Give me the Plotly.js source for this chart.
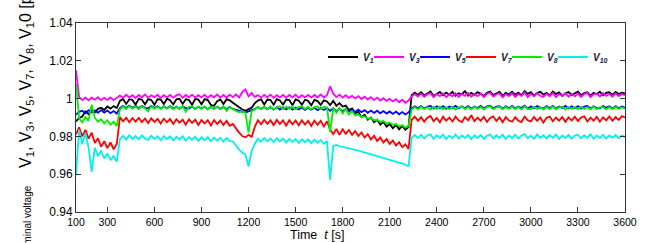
<!DOCTYPE html>
<html>
<head>
<meta charset="utf-8">
<script src="https://cdn.plot.ly/plotly-3.0.1.min.js"></script>
<style>html,body{margin:0;padding:0;background:#fff;}#chart{width:649px;height:243px;}</style>
</head>
<body>
<div id="chart"></div>
<script>
const time = [
100,120,140,160,180,200,220,240,260,280,
300,320,340,360,380,400,420,440,460,480,
500,520,540,560,580,600,620,640,660,680,
700,720,740,760,780,800,820,840,860,880,
900,920,940,960,980,1000,1020,1040,1060,1080,
1100,1120,1140,1160,1180,1200,1220,1240,1260,1280,
1300,1320,1340,1360,1380,1400,1420,1440,1460,1480,
1500,1520,1540,1560,1580,1600,1620,1640,1660,1680,
1700,1720,1740,1760,1780,1800,1820,1840,1860,1880,
1900,1920,1940,1960,1980,2000,2020,2040,2060,2080,
2100,2120,2140,2160,2180,2200,2220,2240,2260,2280,
2300,2320,2340,2360,2380,2400,2420,2440,2460,2480,
2500,2520,2540,2560,2580,2600,2620,2640,2660,2680,
2700,2720,2740,2760,2780,2800,2820,2840,2860,2880,
2900,2920,2940,2960,2980,3000,3020,3040,3060,3080,
3100,3120,3140,3160,3180,3200,3220,3240,3260,3280,
3300,3320,3340,3360,3380,3400,3420,3440,3460,3480,
3500,3520,3540,3560,3580,3600];

const V1 = [
0.9880,0.9898,0.9905,0.9932,0.9918,0.9940,0.9926,0.9946,0.9952,0.9940,
0.9958,0.9947,0.9960,0.9950,0.9988,0.9998,0.9972,0.9997,0.9993,0.9968,
0.9999,0.9994,0.9970,0.9998,0.9992,0.9967,0.9997,0.9995,0.9971,0.9999,
0.9991,0.9969,0.9996,0.9999,0.9972,0.9997,0.9993,0.9968,0.9998,0.9995,
0.9970,0.9997,0.9992,0.9966,0.9962,0.9986,0.9996,0.9971,0.9997,0.9991,
0.9978,0.9966,0.9955,0.9942,0.9936,0.9944,0.9952,0.9976,0.9990,0.9996,
0.9969,0.9995,0.9992,0.9967,0.9997,0.9990,0.9968,0.9995,0.9992,0.9965,
0.9996,0.9989,0.9968,0.9994,0.9988,0.9964,0.9993,0.9987,0.9966,0.9991,
0.9985,0.9966,0.9988,0.9962,0.9976,0.9958,0.9963,0.9940,0.9948,0.9922,
0.9930,0.9902,0.9914,0.9888,0.9900,0.9875,0.9888,0.9862,0.9877,0.9852,
0.9866,0.9843,0.9861,0.9838,0.9856,0.9835,0.9850,1.0018,1.0032,1.0019,
1.0034,1.0017,1.0029,1.0038,1.0014,1.0027,1.0035,1.0018,1.0032,1.0021,
1.0036,1.0015,1.0028,1.0023,1.0039,1.0016,1.0030,1.0020,1.0034,1.0025,
1.0014,1.0031,1.0037,1.0019,1.0028,1.0035,1.0016,1.0030,1.0022,1.0036,
1.0020,1.0032,1.0017,1.0040,1.0025,1.0034,1.0015,1.0029,1.0036,1.0021,
1.0031,1.0017,1.0037,1.0024,1.0033,1.0014,1.0028,1.0035,1.0019,1.0030,
1.0037,1.0018,1.0029,1.0033,1.0016,1.0031,1.0023,1.0036,1.0017,1.0030,
1.0034,1.0020,1.0035,1.0024,1.0031,1.0027];

const V3 = [
1.0150,1.0008,0.9992,1.0006,0.9991,1.0005,0.9994,1.0007,0.9992,1.0004,
0.9993,1.0006,0.9992,1.0003,1.0016,1.0004,1.0020,1.0006,1.0018,1.0003,
1.0019,1.0007,1.0022,1.0004,1.0017,1.0008,1.0021,1.0003,1.0018,1.0006,
1.0020,1.0005,1.0017,1.0023,1.0004,1.0019,1.0007,1.0021,1.0005,1.0018,
1.0006,1.0020,1.0004,1.0018,1.0007,1.0022,1.0005,1.0019,1.0006,1.0021,
1.0008,1.0022,1.0006,1.0034,1.0048,1.0012,1.0030,1.0008,1.0019,1.0005,
1.0020,1.0007,1.0021,1.0004,1.0018,1.0006,1.0020,1.0005,1.0019,1.0007,
1.0021,1.0004,1.0018,1.0006,1.0020,1.0005,1.0019,1.0007,1.0022,1.0006,
1.0018,1.0065,1.0026,1.0008,1.0021,1.0005,1.0018,1.0004,1.0015,1.0001,
1.0013,0.9998,1.0010,0.9995,1.0008,0.9992,1.0005,0.9990,1.0002,0.9988,
0.9999,0.9985,0.9997,0.9981,0.9994,0.9978,0.9990,1.0012,1.0024,1.0011,
1.0026,1.0010,1.0023,1.0029,1.0008,1.0024,1.0013,1.0028,1.0007,1.0023,
1.0012,1.0029,1.0009,1.0025,1.0014,1.0030,1.0010,1.0024,1.0013,1.0027,
1.0008,1.0025,1.0031,1.0011,1.0023,1.0028,1.0007,1.0024,1.0013,1.0029,
1.0009,1.0024,1.0014,1.0032,1.0008,1.0025,1.0012,1.0028,1.0015,1.0009,
1.0026,1.0012,1.0030,1.0008,1.0024,1.0014,1.0029,1.0010,1.0025,1.0012,
1.0028,1.0009,1.0024,1.0030,1.0008,1.0023,1.0027,1.0011,1.0029,1.0014,
1.0025,1.0010,1.0028,1.0013,1.0024,1.0018];

const V5 = [
0.9915,0.9930,0.9936,0.9922,0.9939,0.9927,0.9938,0.9925,0.9939,0.9926,
0.9937,0.9923,0.9934,0.9921,0.9950,0.9962,0.9950,0.9963,0.9951,0.9961,
0.9949,0.9962,0.9951,0.9948,0.9961,0.9950,0.9960,0.9947,0.9959,0.9949,
0.9960,0.9948,0.9958,0.9946,0.9959,0.9949,0.9947,0.9958,0.9945,0.9957,
0.9947,0.9958,0.9944,0.9956,0.9946,0.9957,0.9945,0.9955,0.9944,0.9956,
0.9945,0.9941,0.9936,0.9930,0.9926,0.9932,0.9938,0.9945,0.9955,0.9945,
0.9956,0.9944,0.9954,0.9943,0.9955,0.9942,0.9953,0.9943,0.9954,0.9941,
0.9952,0.9942,0.9953,0.9940,0.9951,0.9941,0.9952,0.9939,0.9950,0.9940,
0.9950,0.9935,0.9949,0.9933,0.9947,0.9932,0.9945,0.9931,0.9943,0.9929,
0.9941,0.9928,0.9939,0.9925,0.9937,0.9924,0.9936,0.9922,0.9934,0.9921,
0.9932,0.9919,0.9931,0.9917,0.9929,0.9916,0.9927,0.9948,0.9959,0.9949,
0.9960,0.9948,0.9958,0.9961,0.9947,0.9959,0.9949,0.9960,0.9946,0.9958,
0.9950,0.9961,0.9948,0.9959,0.9949,0.9960,0.9947,0.9958,0.9950,0.9961,
0.9948,0.9959,0.9962,0.9949,0.9958,0.9960,0.9947,0.9959,0.9949,0.9961,
0.9948,0.9958,0.9950,0.9962,0.9947,0.9959,0.9949,0.9960,0.9951,0.9948,
0.9960,0.9949,0.9961,0.9947,0.9958,0.9950,0.9961,0.9948,0.9959,0.9949,
0.9960,0.9947,0.9958,0.9961,0.9948,0.9959,0.9950,0.9949,0.9961,0.9951,
0.9959,0.9948,0.9960,0.9949,0.9958,0.9952];

const V7 = [
0.9810,0.9848,0.9800,0.9835,0.9788,0.9820,0.9765,0.9790,0.9745,0.9775,
0.9738,0.9768,0.9732,0.9760,0.9902,0.9880,0.9899,0.9875,0.9897,0.9878,
0.9898,0.9876,0.9895,0.9870,0.9896,0.9877,0.9893,0.9868,0.9894,0.9875,
0.9892,0.9866,0.9891,0.9873,0.9889,0.9862,0.9890,0.9871,0.9888,0.9860,
0.9887,0.9869,0.9886,0.9858,0.9886,0.9866,0.9884,0.9860,0.9882,0.9856,
0.9866,0.9840,0.9820,0.9802,0.9795,0.9808,0.9798,0.9850,0.9886,0.9864,
0.9888,0.9867,0.9886,0.9860,0.9887,0.9865,0.9885,0.9857,0.9886,0.9864,
0.9884,0.9859,0.9885,0.9863,0.9883,0.9855,0.9884,0.9862,0.9882,0.9853,
0.9880,0.9836,0.9812,0.9840,0.9808,0.9838,0.9814,0.9834,0.9808,0.9828,
0.9802,0.9821,0.9794,0.9812,0.9784,0.9803,0.9776,0.9794,0.9768,0.9786,
0.9760,0.9778,0.9752,0.9769,0.9743,0.9758,0.9733,0.9888,0.9905,0.9882,
0.9902,0.9878,0.9899,0.9908,0.9880,0.9898,0.9874,0.9904,0.9883,0.9900,
0.9879,0.9905,0.9884,0.9876,0.9902,0.9885,0.9912,0.9880,0.9899,0.9882,
0.9904,0.9877,0.9898,0.9906,0.9881,0.9901,0.9875,0.9903,0.9884,0.9878,
0.9902,0.9883,0.9876,0.9905,0.9885,0.9879,0.9903,0.9882,0.9900,0.9873,
0.9899,0.9905,0.9880,0.9900,0.9883,0.9903,0.9877,0.9901,0.9884,0.9904,
0.9881,0.9900,0.9906,0.9879,0.9899,0.9883,0.9904,0.9878,0.9901,0.9885,
0.9905,0.9882,0.9902,0.9887,0.9907,0.9900];

const V8 = [
1.0080,0.9895,0.9874,0.9903,0.9882,0.9968,0.9899,0.9878,0.9891,0.9869,
0.9885,0.9862,0.9877,0.9856,0.9942,0.9959,0.9945,0.9960,0.9947,0.9958,
0.9944,0.9960,0.9948,0.9932,0.9959,0.9946,0.9958,0.9945,0.9960,0.9947,
0.9959,0.9943,0.9957,0.9946,0.9960,0.9930,0.9956,0.9959,0.9945,0.9958,
0.9946,0.9959,0.9942,0.9957,0.9945,0.9958,0.9947,0.9959,0.9935,0.9956,
0.9944,0.9936,0.9928,0.9932,0.9924,0.9820,0.9934,0.9942,0.9956,0.9944,
0.9957,0.9945,0.9958,0.9941,0.9955,0.9959,0.9944,0.9957,0.9946,0.9958,
0.9943,0.9956,0.9959,0.9945,0.9957,0.9942,0.9955,0.9958,0.9944,0.9956,
0.9954,0.9822,0.9949,0.9926,0.9952,0.9921,0.9946,0.9916,0.9934,0.9911,
0.9916,0.9902,0.9906,0.9893,0.9897,0.9885,0.9889,0.9876,0.9881,0.9868,
0.9873,0.9861,0.9866,0.9853,0.9859,0.9846,0.9855,0.9942,0.9955,0.9943,
0.9957,0.9944,0.9955,0.9942,0.9956,0.9945,0.9958,0.9943,0.9955,0.9944,
0.9956,0.9942,0.9954,0.9958,0.9944,0.9955,0.9943,0.9957,0.9945,0.9956,
0.9942,0.9955,0.9959,0.9944,0.9954,0.9957,0.9943,0.9955,0.9945,0.9958,
0.9944,0.9956,0.9942,0.9959,0.9946,0.9943,0.9957,0.9945,0.9955,0.9942,
0.9956,0.9944,0.9958,0.9943,0.9954,0.9957,0.9942,0.9955,0.9945,0.9956,
0.9943,0.9957,0.9945,0.9955,0.9942,0.9958,0.9944,0.9954,0.9956,0.9943,
0.9955,0.9944,0.9957,0.9945,0.9954,0.9946];

const V10 = [
0.9600,0.9835,0.9758,0.9818,0.9742,0.9612,0.9740,0.9696,0.9724,0.9684,
0.9707,0.9677,0.9696,0.9666,0.9786,0.9803,0.9783,0.9806,0.9787,0.9802,
0.9784,0.9805,0.9789,0.9781,0.9804,0.9786,0.9801,0.9780,0.9802,0.9785,
0.9800,0.9779,0.9798,0.9784,0.9801,0.9777,0.9797,0.9782,0.9799,0.9776,
0.9795,0.9780,0.9796,0.9774,0.9794,0.9778,0.9793,0.9772,0.9791,0.9775,
0.9774,0.9750,0.9730,0.9714,0.9705,0.9640,0.9724,0.9760,0.9788,0.9772,
0.9791,0.9774,0.9789,0.9770,0.9790,0.9773,0.9788,0.9767,0.9787,0.9771,
0.9786,0.9765,0.9785,0.9769,0.9784,0.9763,0.9783,0.9766,0.9781,0.9761,
0.9775,0.9570,0.9750,0.9755,0.9747,0.9745,0.9740,0.9737,0.9733,0.9729,
0.9725,0.9720,0.9715,0.9709,0.9705,0.9699,0.9695,0.9688,0.9685,0.9679,
0.9677,0.9670,0.9667,0.9661,0.9657,0.9651,0.9642,0.9792,0.9807,0.9791,
0.9808,0.9789,0.9805,0.9811,0.9787,0.9806,0.9792,0.9809,0.9786,0.9804,
0.9790,0.9810,0.9788,0.9805,0.9792,0.9808,0.9785,0.9806,0.9791,0.9807,
0.9787,0.9804,0.9811,0.9789,0.9806,0.9792,0.9809,0.9786,0.9805,0.9791,
0.9808,0.9788,0.9805,0.9812,0.9790,0.9804,0.9787,0.9810,0.9792,0.9806,
0.9789,0.9807,0.9793,0.9810,0.9786,0.9805,0.9791,0.9808,0.9788,0.9804,
0.9809,0.9790,0.9806,0.9792,0.9811,0.9787,0.9805,0.9791,0.9808,0.9789,
0.9805,0.9792,0.9807,0.9790,0.9804,0.9798];

const seriesNames = ['V<sub>1</sub>','V<sub>3</sub>','V<sub>5</sub>','V<sub>7</sub>','V<sub>8</sub>','V<sub>10</sub>'];
const seriesValues = [V1, V3, V5, V7, V8, V10];
const seriesColors = ['#000000','#ff00ff','#0000ff','#ff0000','#00ee00','#00f0f0'];

const xTickVals = [100,300,600,900,1200,1500,1800,2100,2400,2700,3000,3300,3600];
const yTickVals = [0.94,0.96,0.98,1,1.02,1.04];
const yTickText = ['0.94','0.96','0.98','1','1.02','1.04'];

const traces = seriesValues.map((vals, k) => {
  const tr = {
    x: time, y: vals, type: 'scatter', mode: 'lines',
    name: '<b><i>' + seriesNames[k] + '</i></b>',
    line: {color: seriesColors[k], width: 1.8}
  };
  if (k === seriesValues.length - 1) tr.legendwidth = 22;
  return tr;
});

const NB = '\u00a0';
const yTitle = '<span style="font-size:10px">Terminal voltage</span>' + NB.repeat(4) +
  'V<sub>1</sub>, V<sub>3</sub>, V<sub>5</sub>, V<sub>7</sub>, V<sub>8</sub>, V<sub>1</sub>0 [p.u.]';

const axisCommon = {
  showline: true, linecolor: '#333', linewidth: 1, mirror: 'ticks',
  ticks: 'inside', ticklen: 5, tickcolor: '#333', showgrid: false, zeroline: false
};

const layout = {
  width: 649, height: 243,
  margin: {l: 76, r: 24, t: 23, b: 31},
  paper_bgcolor: '#fff', plot_bgcolor: '#fff',
  font: {family: 'Liberation Sans, Arial, sans-serif', color: '#000'},
  showlegend: true,
  legend: {
    orientation: 'h', x: 0.45, xanchor: 'left', y: 0.82, yanchor: 'middle',
    bgcolor: 'rgba(0,0,0,0)', borderwidth: 0, entrywidth: 1,
    font: {size: 10, color: '#1a1a3a'}
  },
  xaxis: Object.assign({}, axisCommon, {
    range: [100, 3600], tickmode: 'array', tickvals: xTickVals,
    tickfont: {size: 10.5}
  }),
  yaxis: Object.assign({}, axisCommon, {
    range: [0.94, 1.04], tickmode: 'array', tickvals: yTickVals, ticktext: yTickText,
    tickfont: {size: 12}
  }),
  annotations: [
    {text: 'Time' + NB + NB + '<i>t</i> [s]', xref: 'paper', yref: 'paper',
     x: 0.439, y: 0, xanchor: 'center', yanchor: 'middle', yshift: -23,
     showarrow: false, font: {size: 12.5}},
    {text: yTitle, xref: 'paper', yref: 'paper', textangle: -90,
     x: -0.091, y: 0.5, xanchor: 'center', yanchor: 'middle', yshift: 1,
     showarrow: false, font: {size: 16}}
  ]
};

Plotly.newPlot('chart', traces, layout, {displayModeBar: false, staticPlot: true});
</script>
</body>
</html>
